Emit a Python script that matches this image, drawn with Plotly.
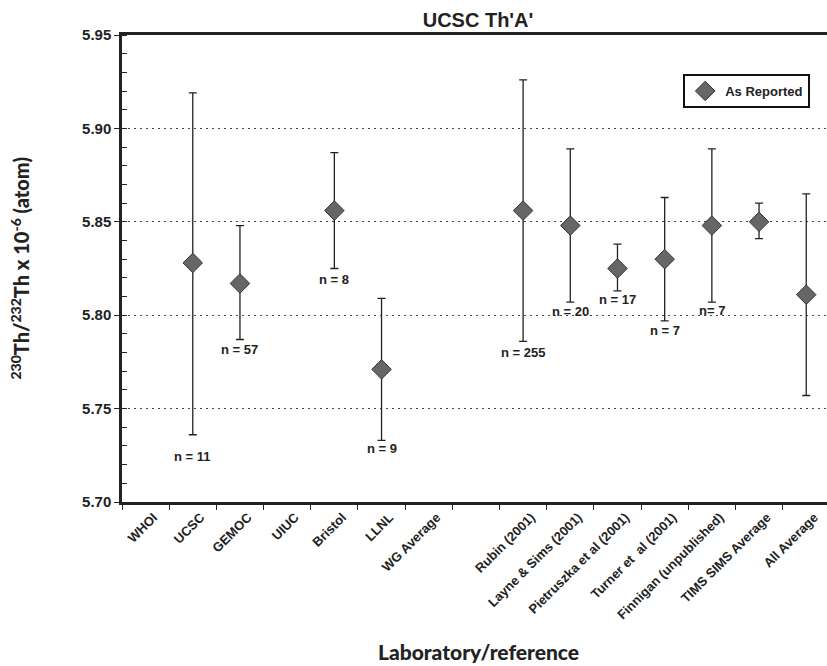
import plotly.graph_objects as go

# Laboratories / references along the x axis (one empty slot separates the groups)
labs = ["WHOI", "UCSC", "GEMOC", "UIUC", "Bristol", "LLNL", "WG Average", " ",
        "Rubin (2001)", "Layne & Sims (2001)", "Pietruszka et al (2001)",
        "Turner et\u00a0 al (2001)", "Finnigan (unpublished)", "TIMS SIMS Average",
        "All Average"]

# 230Th/232Th x 10^-6 (atom), as reported, with upper/lower error limits
reported = [None, 5.828, 5.817, None, 5.856, 5.771, None, None,
            5.856, 5.848, 5.825, 5.830, 5.848, 5.850, 5.811]
upper = [None, 5.919, 5.848, None, 5.887, 5.809, None, None,
         5.926, 5.889, 5.838, 5.863, 5.889, 5.860, 5.865]
lower = [None, 5.736, 5.787, None, 5.825, 5.733, None, None,
         5.786, 5.807, 5.813, 5.797, 5.807, 5.841, 5.757]

# number of analyses behind each value
n_text = [None, "n = 11", "n = 57", None, "n = 8", "n = 9", None, None,
          "n = 255", "n = 20", "n = 17", "n = 7", "n= 7", None, None]
# pixel gap between the lower error cap and its n label
n_gap = [0, 22, 10, 0, 11, 8, 0, 0, 11, 9, 9, 10, 8, 0, 0]

err_plus = [None if v is None else u - v for v, u in zip(reported, upper)]
err_minus = [None if v is None else v - l for v, l in zip(reported, lower)]

AX = "#222222"
BOLD = "Liberation Sans, Arial, Helvetica, sans-serif"
GEO = "Lato, Open Sans, sans-serif"

fig = go.Figure()
fig.add_trace(go.Scatter(
    x=labs, y=reported, mode="markers", name="As Reported",
    marker=dict(symbol="diamond", size=15, color="#666666",
                line=dict(color="#333333", width=1)),
    error_y=dict(type="data", symmetric=False, array=err_plus,
                 arrayminus=err_minus, color=AX, thickness=1.3, width=4),
))

for lab, lo, txt, gap in zip(labs, lower, n_text, n_gap):
    if txt is None:
        continue
    fig.add_annotation(x=lab, y=lo, text=txt, showarrow=False,
                       yanchor="middle", yshift=-gap,
                       font=dict(family=BOLD, size=13, color=AX, weight="bold"))

# axis titles
fig.add_annotation(xref="paper", yref="paper", x=-0.146, y=0.5,
                   xanchor="center", yanchor="middle",
                   text="<sup>230</sup>Th/<sup>232</sup>Th x 10<sup>-6</sup> (atom)",
                   textangle=-90, showarrow=False,
                   font=dict(family=GEO, size=20, color=AX, weight=900))
fig.add_annotation(xref="paper", yref="paper", x=0.505, y=-0.321,
                   xanchor="center", yanchor="middle",
                   text="Laboratory/reference", showarrow=False,
                   font=dict(family=GEO, size=21, color=AX, weight=900))

fig.update_layout(
    width=827, height=666,
    margin=dict(l=122, r=0, t=35, b=164),
    paper_bgcolor="white", plot_bgcolor="white",
    title=dict(text="UCSC Th'A'", x=0.505, xref="paper", xanchor="center",
               y=1 - 20 / 666, yanchor="middle",
               font=dict(family=BOLD, size=20, color=AX, weight="bold")),
    showlegend=True,
    legend=dict(x=0.796, y=0.9165, xanchor="left", yanchor="top",
                bgcolor="white", bordercolor="#111111", borderwidth=2,
                itemwidth=30,
                font=dict(family=BOLD, size=13, color=AX, weight="bold")),
)

fig.update_xaxes(
    type="category", categoryorder="array", categoryarray=labs,
    range=[-0.5, 14.44], tickson="boundaries",
    ticks="outside", ticklen=5, tickwidth=1.3, tickcolor=AX,
    showline=True, linewidth=2.5, linecolor=AX, mirror=True,
    showgrid=False, tickangle=-45, ticklabelshift=8,
    tickfont=dict(family=BOLD, size=13, color=AX, weight="bold"),
)

fig.update_yaxes(
    range=[5.70, 5.95], tick0=5.70, dtick=0.05, tickformat=".2f",
    ticks="outside", ticklen=5, tickwidth=1.3, tickcolor=AX,
    showline=True, linewidth=2.5, linecolor=AX,
    showgrid=True, gridcolor="#444444", gridwidth=1, griddash="2px,4px",
    zeroline=False,
    minor=dict(dtick=0.01, ticks="inside", ticklen=5, tickwidth=1.3,
               tickcolor=AX, showgrid=False),
    tickfont=dict(family=BOLD, size=15, color=AX, weight="bold"),
)

fig.write_html("out.html")
